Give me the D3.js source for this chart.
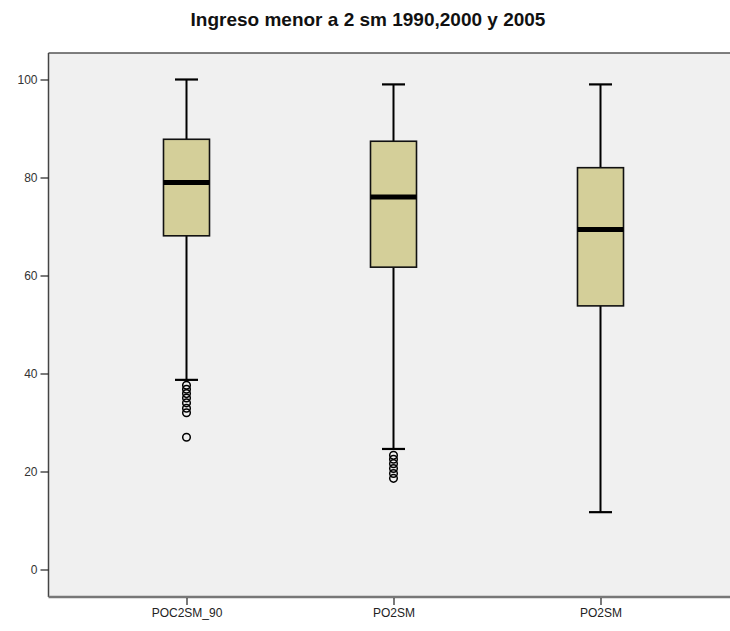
<!DOCTYPE html>
<html>
<head>
<meta charset="utf-8">
<script src="https://cdn.jsdelivr.net/npm/d3@7/dist/d3.min.js"></script>
<style>
  html, body { margin: 0; padding: 0; background: #ffffff; }
  svg { display: block; }
</style>
</head>
<body>
<svg id="chart" width="730" height="631"></svg>
<script>
// ---- data ----
const categories = ["POC2SM_90", "PO2SM", "PO2SM"];
const whiskerLow  = [38.7, 24.6, 11.7];
const q1          = [68.1, 61.7, 53.8];
const median      = [79.0, 76.0, 69.4];
const q3          = [87.8, 87.4, 82.0];
const whiskerHigh = [100.0, 99.0, 99.0];
const outliers = [
  [37.6, 36.8, 35.9, 35.0, 34.0, 32.9, 32.0, 27.0],
  [23.3, 22.5, 21.6, 20.6, 19.6, 18.6],
  []
];
const yTicks = [0, 20, 40, 60, 80, 100];
const titleText = "Ingreso menor a 2 sm 1990,2000 y 2005";

// ---- layout ----
const svg = d3.select("#chart");
const y = d3.scaleLinear().domain([0, 100]).range([569.5, 79.5]);
const x = d3.scaleLinear().domain([0, categories.length - 1]).range([186.5, 600.5]);
const frameLeft = 48.5, frameRight = 740;
const frameTop = y(105.4), frameBottom = y(-5.6);

// plot background
svg.append("rect")
  .attr("x", frameLeft).attr("y", frameTop)
  .attr("width", frameRight - frameLeft).attr("height", frameBottom - frameTop)
  .attr("fill", "#f0f0f0");

// frame lines
svg.append("line").attr("x1", frameLeft).attr("x2", frameRight)
  .attr("y1", frameTop).attr("y2", frameTop)
  .attr("stroke", "#555").attr("stroke-width", 1.5);
svg.append("line").attr("x1", frameLeft).attr("x2", frameLeft)
  .attr("y1", frameTop).attr("y2", frameBottom)
  .attr("stroke", "#444").attr("stroke-width", 1.5);
svg.append("line").attr("x1", frameLeft).attr("x2", frameRight)
  .attr("y1", frameBottom).attr("y2", frameBottom)
  .attr("stroke", "#777").attr("stroke-width", 2.5);

// y axis
const yAxis = d3.axisLeft(y).tickValues(yTicks).tickSize(8).tickPadding(3).tickSizeOuter(0);
const gy = svg.append("g").attr("transform", `translate(${frameLeft},0)`).call(yAxis);
gy.select(".domain").remove();
gy.selectAll(".tick line").attr("stroke", "#222").attr("stroke-width", 1.2);
gy.selectAll(".tick text").attr("fill", "#333")
  .style("font-family", "Liberation Sans, Arial, sans-serif").style("font-size", "12px");

// x axis
const xAxis = d3.axisBottom(x).tickValues(d3.range(categories.length))
  .tickFormat(i => categories[i]).tickSize(7).tickPadding(4).tickSizeOuter(0);
const gx = svg.append("g").attr("transform", `translate(0,${frameBottom + 1})`).call(xAxis);
gx.select(".domain").remove();
gx.selectAll(".tick line").attr("stroke", "#222").attr("stroke-width", 1.2);
gx.selectAll(".tick text").attr("fill", "#222")
  .style("font-family", "Liberation Sans, Arial, sans-serif").style("font-size", "12px");

// boxes
const boxW = 46, capW = 23;
const data = categories.map((c, i) => ({
  i, lo: whiskerLow[i], q1: q1[i], med: median[i], q3: q3[i], hi: whiskerHigh[i], out: outliers[i]
}));
const g = svg.append("g");
data.forEach(d => {
  const cx = x(d.i);
  // whiskers
  g.append("line").attr("x1", cx).attr("x2", cx).attr("y1", y(d.hi)).attr("y2", y(d.q3))
    .attr("stroke", "#000").attr("stroke-width", 2);
  g.append("line").attr("x1", cx).attr("x2", cx).attr("y1", y(d.q1)).attr("y2", y(d.lo))
    .attr("stroke", "#000").attr("stroke-width", 2);
  g.append("line").attr("x1", cx - capW / 2).attr("x2", cx + capW / 2).attr("y1", y(d.hi)).attr("y2", y(d.hi))
    .attr("stroke", "#000").attr("stroke-width", 2.2);
  g.append("line").attr("x1", cx - capW / 2).attr("x2", cx + capW / 2).attr("y1", y(d.lo)).attr("y2", y(d.lo))
    .attr("stroke", "#000").attr("stroke-width", 2.2);
  // box
  g.append("rect").attr("x", cx - boxW / 2).attr("y", y(d.q3))
    .attr("width", boxW).attr("height", y(d.q1) - y(d.q3))
    .attr("fill", "#d4cf99").attr("stroke", "#111").attr("stroke-width", 1.6);
  // median
  g.append("line").attr("x1", cx - boxW / 2).attr("x2", cx + boxW / 2).attr("y1", y(d.med)).attr("y2", y(d.med))
    .attr("stroke", "#000").attr("stroke-width", 5);
  // outliers
  g.selectAll(null).data(d.out).enter().append("circle")
    .attr("cx", cx).attr("cy", v => y(v)).attr("r", 3.8)
    .attr("fill", "none").attr("stroke", "#000").attr("stroke-width", 1.5);
});

// title
svg.append("text").attr("x", 368).attr("y", 26).attr("text-anchor", "middle")
  .attr("fill", "#111")
  .style("font-family", "Liberation Sans, Arial, sans-serif")
  .style("font-size", "19px").style("font-weight", "bold")
  .text(titleText);
</script>
</body>
</html>
